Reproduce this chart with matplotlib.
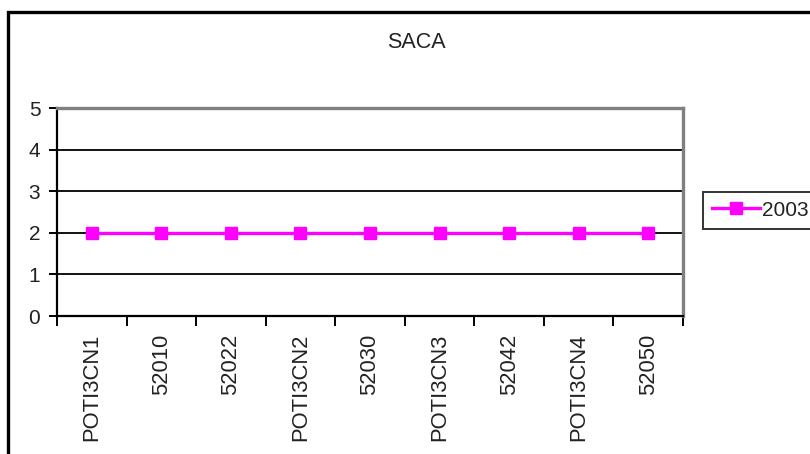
import numpy as np
import matplotlib
matplotlib.use("Agg")
import matplotlib.pyplot as plt
from matplotlib.patches import Rectangle

plt.rcParams['font.family'] = ['Liberation Sans', 'DejaVu Sans']

# Data
categories = ["POTI3CN1", "52010", "52022", "POTI3CN2", "52030",
              "POTI3CN3", "52042", "POTI3CN4", "52050"]
values_2003 = [2, 2, 2, 2, 2, 2, 2, 2, 2]
series_name = "2003"
title = "SACA"
y_ticks = [0, 1, 2, 3, 4, 5]

W, H, DPI = 810, 454, 100
fig = plt.figure(figsize=(W / DPI, H / DPI), dpi=DPI)
fig.patch.set_facecolor("white")

FS = 15
TXT = "#222222"

ax = fig.add_axes([57 / W, 1 - 316 / H, (683 - 57) / W, (316 - 108) / H])
x = np.arange(len(categories))
ax.plot(x, values_2003, color="#FF00FF", linewidth=2.4, marker="s",
        markersize=8.5, markeredgecolor="#FF00FF", markerfacecolor="#FF00FF",
        label=series_name, zorder=3, clip_on=False)

ax.set_xlim(-0.5, len(categories) - 0.5)
ax.set_ylim(0, 5)

# y axis
ax.set_yticks(y_ticks)
ax.set_yticklabels([str(v) for v in y_ticks], fontsize=FS, color=TXT)
ax.tick_params(axis="y", direction="out", length=6, width=1.4, pad=6, color="black")
ax.yaxis.grid(True, color="black", linewidth=1.3)
ax.set_axisbelow(True)

# x axis: ticks between categories, labels centred on each category
ax.set_xticks(np.arange(-0.5, len(categories), 1.0))
ax.set_xticklabels([])
ax.tick_params(axis="x", which="major", direction="out", length=7, width=1.4, color="black")
ax.set_xticks(x, minor=True)
ax.set_xticklabels(categories, minor=True, rotation=90, fontsize=15.8, color=TXT)
ax.tick_params(axis="x", which="minor", length=0, pad=13)

for side in ("left", "bottom"):
    ax.spines[side].set_color("black")
    ax.spines[side].set_linewidth(1.6)
for side in ("top", "right"):
    ax.spines[side].set_color("#808080")
    ax.spines[side].set_linewidth(2.4)

# Title
fig.text(416 / W, 1 - 42 / H, title, ha="center", va="center", fontsize=15.5, color=TXT)

# Legend
leg = ax.legend(loc="upper left", bbox_to_anchor=(703 / W, 1 - 192 / H),
                bbox_transform=fig.transFigure, fontsize=15, frameon=True,
                fancybox=False, shadow=False, borderpad=0.42, handlelength=2.3,
                handletextpad=0.1, borderaxespad=0.0, markerscale=1.0)
leg.get_frame().set_edgecolor("black")
leg.get_frame().set_linewidth(1.4)
for t in leg.get_texts():
    t.set_color(TXT)

# Chart frame
frame = Rectangle((7.5 / W, -0.2), 1.3, 1.2 - 11.5 / H, transform=fig.transFigure,
                  fill=False, edgecolor="black", linewidth=2.4, clip_on=False)
fig.patches.append(frame)

fig.savefig("out.png", dpi=DPI)
